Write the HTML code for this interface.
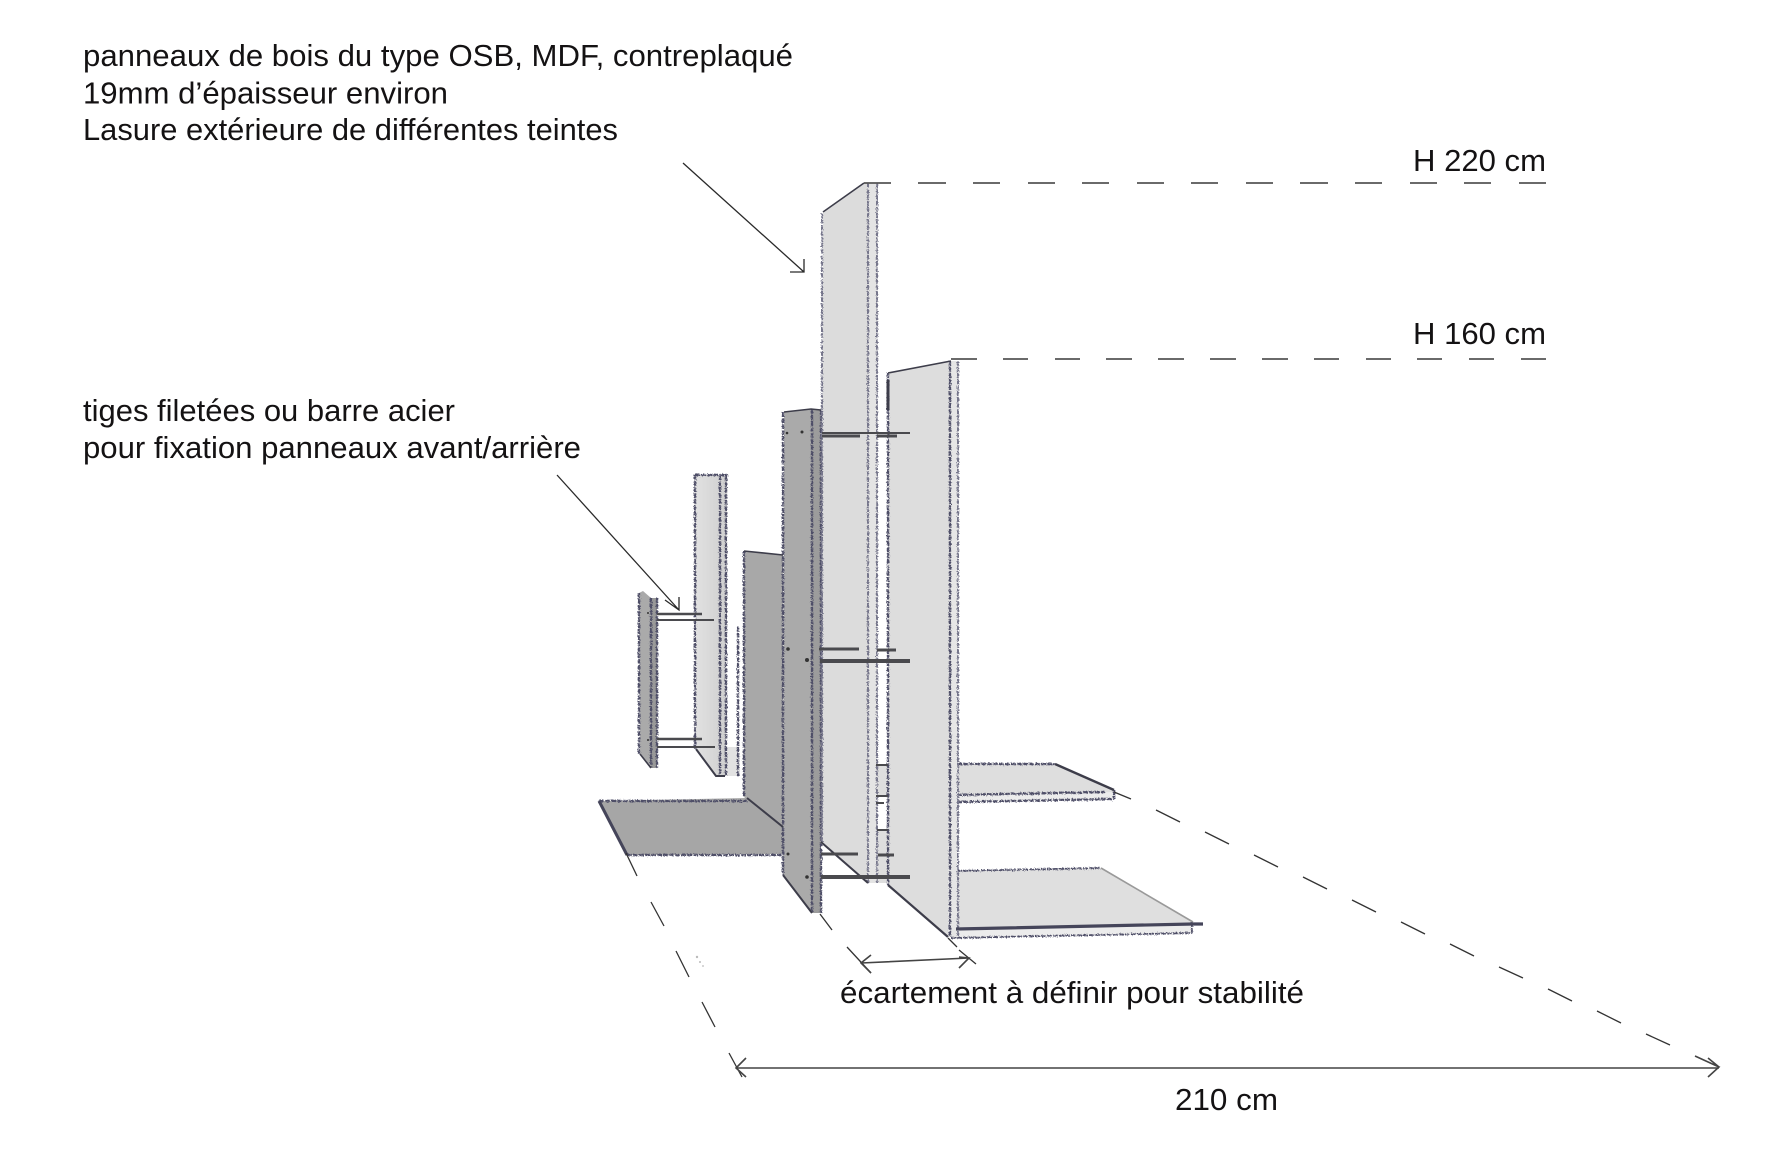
<!DOCTYPE html>
<html><head><meta charset="utf-8"><style>
html,body{margin:0;padding:0;background:#fff}
svg{display:block}
text{font-family:"Liberation Sans",sans-serif;font-size:30.5px;fill:#141213}
</style></head><body>
<svg width="1772" height="1164" viewBox="0 0 1772 1164" xmlns="http://www.w3.org/2000/svg">
<defs>
<filter id="p" x="-5%" y="-5%" width="110%" height="110%"><feTurbulence type="fractalNoise" baseFrequency="0.8" numOctaves="2" seed="4"/><feDisplacementMap in="SourceGraphic" scale="3.4"/></filter>
<linearGradient id="sh" x1="0" y1="0" x2="1" y2="0"><stop offset="0" stop-color="#e2e2e2"/><stop offset="1" stop-color="#cfcfcf"/></linearGradient>
</defs>
<rect width="1772" height="1164" fill="#fff"/>

<!-- fills -->
<g stroke="none">
<polygon points="744,551 783,555 783,827 744,797" fill="#a8a8a8"/>
<polygon points="694,475 720,475 727,476 726,776 716,776 696,749" fill="url(#sh)"/>
<polygon points="727,747 739,747 740,776 726,776" fill="#e2e2e2"/>
<polygon points="599,801 747,798 783,827 783,854 627,855" fill="#a6a6a6"/>
<polygon points="639,593 643,591 651,598 651,768 640,754" fill="#aaaaaa"/>
<rect x="651" y="598" width="6" height="170" fill="#999"/>
<polygon points="957,764 1055,764 1114,790 1114,799 957,802" fill="#dedede"/>
<polygon points="957,795 1114,792 1114,799 957,802" fill="#ececec"/>
<polygon points="957,871 1101,868 1193,922 1192,933 951,938" fill="#dfdfdf"/>
<polygon points="956,929 1193,924 1192,933 951,938" fill="#ececec"/>
<!-- tall panel -->
<polygon points="823,213 864,183 868,183 868,883 821,842" fill="#dcdcdc"/>
<polygon points="868,183 878,183 877,883 868,883" fill="#e4e4e4"/>
<!-- strips in gap between panels -->
<rect x="877" y="765" width="11" height="31" fill="#dedede"/>
<rect x="877" y="830" width="11" height="53" fill="#dedede"/>
<!-- panel 160 -->
<polygon points="888,373 951,361 948,937 888,885" fill="#dddddd"/>
<polygon points="951,361 959,361 957,937 948,937" fill="#e6e6e6"/>
<!-- front dark panel -->
<polygon points="784,412 811,409 812,913 783,875" fill="#aaaaaa"/>
<polygon points="811,409 821,410 821,913 812,913" fill="#9c9c9c"/>
</g>

<!-- pencil lines -->
<g filter="url(#p)" fill="none" stroke="#4f4f68" stroke-width="2.3" stroke-dasharray="5 1">
<path d="M783,412V875M812,409V913M821,410V913"/>
<path d="M744,551V797"/>
<path d="M695,475V749M720,475V776M726,476V776M738,627V776"/>
<path d="M695,475H728"/>
<path d="M639,593V754M651,598V768M657,598V768"/>
<path d="M599,801H747M627,855H783"/>
<path d="M957,764H1055M957,802L1114,799M957,795L1105,792M1114,790V799"/>
<path d="M957,871L1101,868M951,938L1192,933M1192,922V933" stroke-width="1.8"/>
<path d="M888,373V885M950,361V937"/>
</g>
<g filter="url(#p)" fill="none" stroke="#77778c" stroke-width="2" stroke-dasharray="5 1">
<path d="M822,213V842M868,183V883M877,183V883M958,361V937"/>
</g>
<path d="M599,801L627,855" fill="none" stroke="#45455a" stroke-width="3"/>
<g fill="none" stroke="#3d3d4a" stroke-width="1.6">
<path d="M823,212L864,183M888,373L951,361M784,412L811,409L821,410M744,551L783,555"/>
<path d="M1055,764L1114,790" stroke-width="2.4"/>
<path d="M1101,868L1193,922" stroke="#9a9a9a"/>
<path d="M888,885L948,937" stroke-width="2.2"/>
<path d="M821,842L868,883" stroke-width="2"/>
<path d="M696,749L716,776H725" stroke-width="2"/>
<path d="M747,798L783,827M783,875L812,913" stroke-width="2"/>
<path d="M640,754L651,768"/>
<path d="M888,380V410" stroke-width="3"/>
</g>
<path d="M956,929L1193,924H1203" fill="none" stroke="#45455a" stroke-width="3.2"/>

<!-- rods -->
<g fill="none" stroke="#4a4a4e">
<path d="M657,614H702M657,739H702" stroke-width="2.4"/>
<path d="M657,620H714M657,747H715" stroke-width="2"/>
<path d="M822,433H910" stroke-width="2"/>
<path d="M822,436H860M877,436H897" stroke-width="3"/>
<path d="M819,649H859M877,650H896" stroke-width="3"/>
<path d="M820,661H910" stroke-width="4"/>
<path d="M821,854H858M878,855H894" stroke-width="3"/>
<path d="M821,877H910" stroke-width="4"/>
<path d="M876,765H888M876,796H888M876,803H884M877,830H888" stroke-width="2"/>
</g>
<!-- fixing dots -->
<g fill="#333">
<circle cx="787" cy="433" r="1.3"/><circle cx="802" cy="432" r="1.5"/>
<circle cx="788" cy="649" r="1.8"/><circle cx="807" cy="660" r="2"/>
<circle cx="788" cy="854" r="1.5"/><circle cx="807" cy="877" r="1.8"/>
<circle cx="648" cy="613" r="1"/><circle cx="648" cy="740" r="1"/>
</g>
<g fill="#bbb">
<circle cx="697" cy="957" r="1.2"/><circle cx="700" cy="962" r="1"/><circle cx="703" cy="966" r="0.9"/>
</g>

<!-- thin lines -->
<g fill="none" stroke="#2a2a2a" stroke-width="1.3">
<path d="M683,163L804,272M790,272H804V259"/>
<path d="M557,475L679,610M665,600L679,610V597"/>
</g>
<g fill="none" stroke="#555" stroke-width="1.8">
<path d="M864,183H891M918,183H946M973,183H1000M1028,183H1055M1082,183H1109M1137,183H1164M1191,183H1218M1246,183H1273M1300,183H1328M1355,183H1382M1410,183H1437M1464,183H1491M1519,183H1546"/>
<path d="M951,359H977M1003,359H1028M1055,359H1080M1106,359H1132M1158,359H1184M1210,359H1236M1262,359H1288M1314,359H1339M1366,359H1391M1417,359H1442M1469,359H1494M1521,359H1546"/>
</g>
<g fill="none" stroke="#333" stroke-width="1.3">
<path d="M1114,792L1131,799M1156,810L1180,822M1205,832L1229,844M1254,855L1278,867M1303,877L1327,889M1352,900L1376,912M1401,922L1425,934M1450,944L1474,956M1499,967L1523,978M1548,989L1572,1001M1597,1011L1621,1023M1646,1034L1670,1045"/>
<path d="M626,853L637,876M651,902L664,926M676,951L689,977M702,1002L715,1027"/>
<path d="M820,914L832,930M847,947L871,973M948,938L957,947M959,950L976,964"/>
<path d="M729,1053L742,1077"/>
</g>
<g fill="none" stroke="#444" stroke-width="1.6">
<path d="M736,1068H1719M1695,1056L1719,1067L1708,1077M1708,1058L1719,1067M746,1058L736,1068L746,1077"/>
<path d="M861,963L969,958M871,955L861,963L871,973M959,957L969,958L959,968"/>
</g>

<!-- text -->
<text x="83" y="66" textLength="710" lengthAdjust="spacingAndGlyphs">panneaux de bois du type OSB, MDF, contreplaqué</text>
<text x="83" y="103.5" textLength="365" lengthAdjust="spacingAndGlyphs">19mm d’épaisseur environ</text>
<text x="83" y="140" textLength="535" lengthAdjust="spacingAndGlyphs">Lasure extérieure de différentes teintes</text>
<text x="83" y="421" textLength="372" lengthAdjust="spacingAndGlyphs">tiges filetées ou barre acier</text>
<text x="83" y="458" textLength="498" lengthAdjust="spacingAndGlyphs">pour fixation panneaux avant/arrière</text>
<text x="840" y="1003" textLength="464" lengthAdjust="spacingAndGlyphs">écartement à définir pour stabilité</text>
<text x="1175" y="1110" textLength="103" lengthAdjust="spacingAndGlyphs">210 cm</text>
<text x="1413" y="171" textLength="133" lengthAdjust="spacingAndGlyphs">H 220 cm</text>
<text x="1413" y="344" textLength="133" lengthAdjust="spacingAndGlyphs">H 160 cm</text>
</svg>
</body></html>
